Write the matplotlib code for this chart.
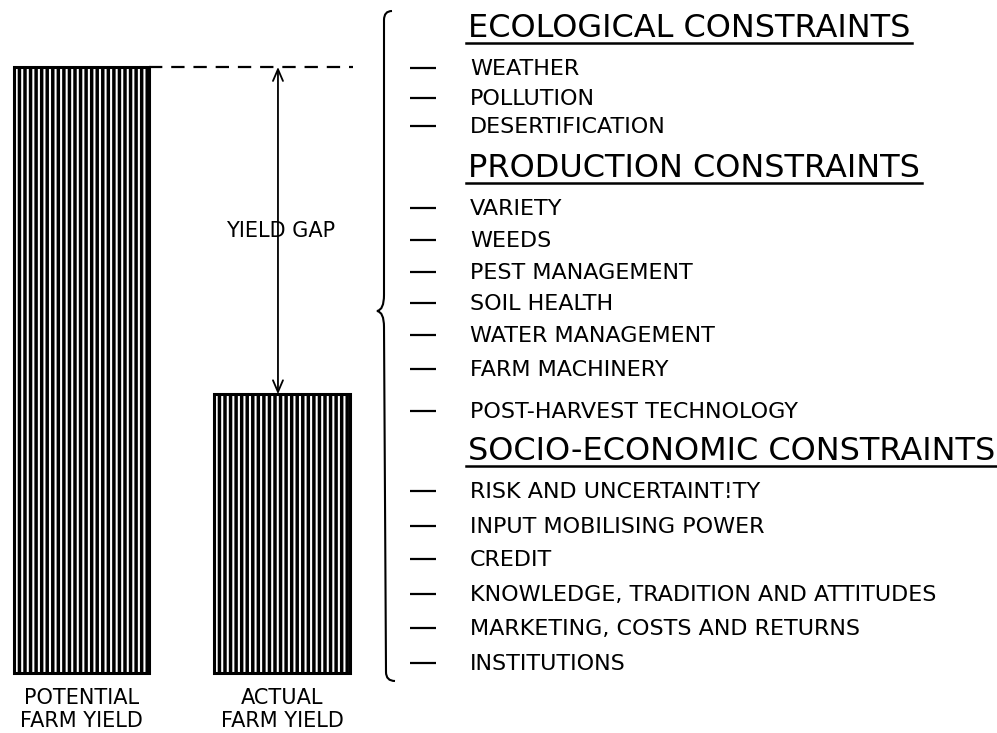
import numpy as np
import matplotlib
matplotlib.use("Agg")
import matplotlib.pyplot as plt
from matplotlib.path import Path
from matplotlib.patches import PathPatch

# ---------------- data ----------------
categories = ["POTENTIAL\nFARM YIELD", "ACTUAL\nFARM YIELD"]
yield_values = [100, 46]
gap_label = "YIELD GAP"

section_titles = ["ECOLOGICAL CONSTRAINTS",
                  "PRODUCTION CONSTRAINTS",
                  "SOCIO-ECONOMIC CONSTRAINTS"]
ecological_items = ["WEATHER", "POLLUTION", "DESERTIFICATION"]
production_items = ["VARIETY", "WEEDS", "PEST MANAGEMENT", "SOIL HEALTH",
                    "WATER MANAGEMENT", "FARM MACHINERY",
                    "POST-HARVEST TECHNOLOGY"]
socio_items = ["RISK AND UNCERTAINT!TY", "INPUT MOBILISING POWER", "CREDIT",
               "KNOWLEDGE, TRADITION AND ATTITUDES",
               "MARKETING, COSTS AND RETURNS", "INSTITUTIONS"]
section_items = [ecological_items, production_items, socio_items]

# ---------------- layout (pixels, y downwards) ----------------
W, H = 997, 733
header_baselines = [37, 177, 460]
item_centers = [[67, 97, 125],
                [207, 239, 271, 302, 334, 368, 410],
                [490, 525, 558, 593, 627, 662]]
text_x = 470
header_fs = 23
item_fs = 16

plt.rcParams["font.family"] = ["DejaVu Sans"]
plt.rcParams["hatch.linewidth"] = 2.5

fig = plt.figure(figsize=(W / 100, H / 100), dpi=100)
fig.patch.set_facecolor("white")

ax0 = fig.add_axes([0, 0, 1, 1])
ax0.set_xlim(0, W)
ax0.set_ylim(H, 0)
ax0.axis("off")

# ---------------- bars ----------------
bar_px_left, bar_px_right, base_px, top_px = 14, 351, 673, 67
axb = fig.add_axes([bar_px_left / W, (H - base_px) / H,
                    (bar_px_right - bar_px_left) / W, (base_px - top_px) / H])
axb.patch.set_alpha(0)
x = np.arange(len(categories))
bar_w = 0.675
axb.bar(x, yield_values, width=bar_w, color="white", edgecolor="black",
        hatch="|||", linewidth=2.2, clip_on=False)
axb.set_xlim(-0.3367, 1.3443)
axb.set_ylim(0, max(yield_values))
for s in axb.spines.values():
    s.set_visible(False)
axb.set_yticks([])
axb.set_xticks(x, categories, fontsize=15)
axb.tick_params(axis="x", length=0, pad=11)

# dashed reference line from potential top
axb.plot([x[0] + bar_w / 2, 1.354], [yield_values[0]] * 2, color="black",
         lw=1.6, dashes=(6, 4), clip_on=False)

# yield-gap double arrow
arrow_x = 0.98
axb.annotate("", xy=(arrow_x, yield_values[1]), xytext=(arrow_x, yield_values[0]),
             arrowprops=dict(arrowstyle="<->,head_length=0.7,head_width=0.3",
                             lw=1.3, color="black", shrinkA=0, shrinkB=0,
                             mutation_scale=12),
             annotation_clip=False)
axb.text(arrow_x + 0.012, (yield_values[0] + yield_values[1]) / 2, gap_label,
         ha="center", va="center", fontsize=15, color="black")

# ---------------- brace ----------------
verts = [(392, 11), (384, 11), (384, 20),
         (384, 295),
         (384, 310), (377, 311),
         (384, 312), (384, 327),
         (386, 672),
         (386, 681), (395, 681)]
codes = [Path.MOVETO, Path.CURVE3, Path.CURVE3,
         Path.LINETO,
         Path.CURVE3, Path.CURVE3,
         Path.CURVE3, Path.CURVE3,
         Path.LINETO,
         Path.CURVE3, Path.CURVE3]
ax0.add_patch(PathPatch(Path(verts, codes), facecolor="none",
                        edgecolor="black", lw=1.5))

# ---------------- headers and items ----------------
px_per_pt = 100 / 72
item_cap = item_fs * px_per_pt * 0.729
headers = []
for title, hb in zip(section_titles, header_baselines):
    t = ax0.text(468, hb, title, ha="left", va="baseline",
                 fontsize=header_fs, color="black")
    headers.append((t, hb))

for items, ys in zip(section_items, item_centers):
    for label, yc in zip(items, ys):
        ax0.plot([410, 436], [yc + 1, yc + 1], color="black", lw=1.6,
                 solid_capstyle="butt")
        ax0.text(text_x, yc + item_cap / 2, label, ha="left", va="baseline",
                 fontsize=item_fs, color="black")

fig.canvas.draw()
inv = ax0.transData.inverted()
for t, hb in headers:
    bb = t.get_window_extent()
    x1 = inv.transform((bb.x1, bb.y0))[0]
    ax0.plot([466, x1 + 2], [hb + 6, hb + 6], color="black", lw=1.8)

fig.savefig("out.png", dpi=100, facecolor="white")
